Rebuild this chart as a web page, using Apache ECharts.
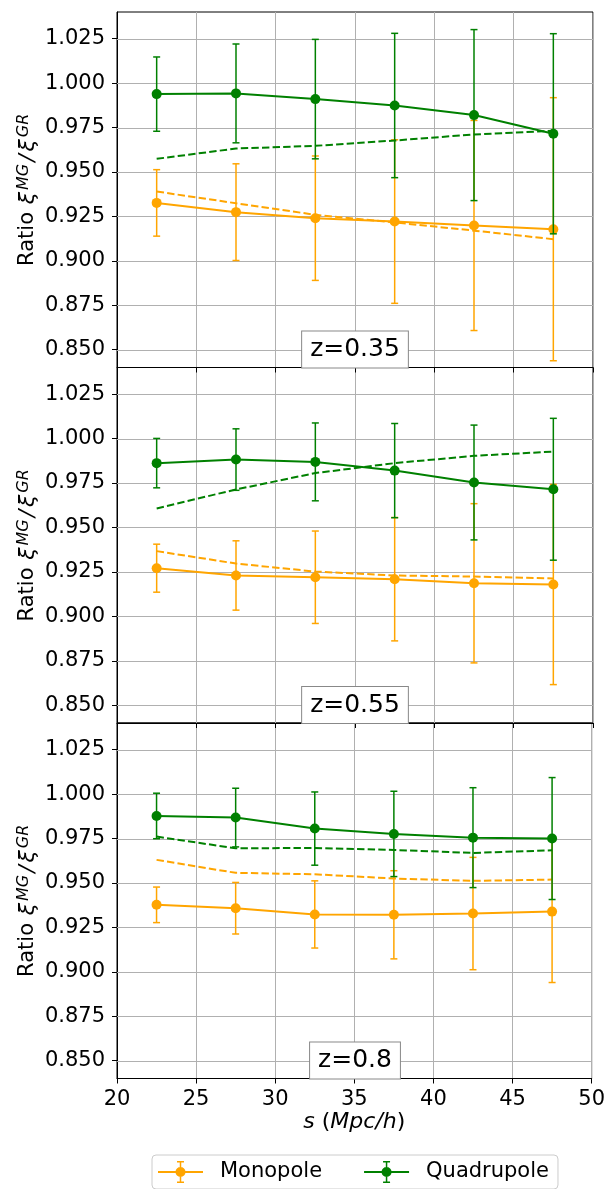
<!DOCTYPE html>
<html>
<head>
<meta charset="utf-8">
<script src="https://cdn.jsdelivr.net/npm/echarts@6/dist/echarts.min.js"></script>
<style>
html,body{margin:0;padding:0;background:#fff;}
#chart{width:608px;height:1189px;}
</style>
</head>
<body>
<div id="chart"></div>
<script>
// ---------------- data ----------------
const sValues = [22.5, 27.5, 32.5, 37.5, 42.5, 47.5];
const panelLabels = ['z=0.35', 'z=0.55', 'z=0.8'];
const yTicks = [0.850, 0.875, 0.900, 0.925, 0.950, 0.975, 1.000, 1.025];
const xTicks = [20, 25, 30, 35, 40, 45, 50];

// Monopole ratio (solid, with error bars), one row per panel
const monoRatio = [
  [0.9326, 0.9274, 0.9240, 0.9221, 0.9199, 0.9178],
  [0.9271, 0.9230, 0.9220, 0.9209, 0.9186, 0.9179],
  [0.9377, 0.9358, 0.9323, 0.9321, 0.9328, 0.9339]
];
const monoErr = [
  [0.0187, 0.0272, 0.0350, 0.0460, 0.0591, 0.0740],
  [0.0135, 0.0195, 0.0260, 0.0347, 0.0448, 0.0563],
  [0.0100, 0.0145, 0.0189, 0.0248, 0.0316, 0.0399]
];
// Monopole dashed curve
const monoDash = [
  [0.9390, 0.9324, 0.9259, 0.9216, 0.9170, 0.9122],
  [0.9367, 0.9297, 0.9252, 0.9230, 0.9224, 0.9213],
  [0.9630, 0.9557, 0.9549, 0.9525, 0.9512, 0.9519]
];
// Quadrupole ratio (solid, with error bars)
const quadRatio = [
  [0.9938, 0.9942, 0.9910, 0.9874, 0.9820, 0.9715],
  [0.9862, 0.9882, 0.9869, 0.9820, 0.9753, 0.9715],
  [0.9877, 0.9868, 0.9806, 0.9776, 0.9755, 0.9750]
];
const quadErr = [
  [0.0209, 0.0278, 0.0336, 0.0406, 0.0481, 0.0563],
  [0.0139, 0.0173, 0.0219, 0.0265, 0.0323, 0.0399],
  [0.0128, 0.0165, 0.0206, 0.0240, 0.0281, 0.0343]
];
// Quadrupole dashed curve
const quadDash = [
  [0.9574, 0.9632, 0.9647, 0.9677, 0.9711, 0.9732],
  [0.9607, 0.9714, 0.9806, 0.9862, 0.9903, 0.9927],
  [0.9761, 0.9695, 0.9697, 0.9686, 0.9669, 0.9684]
];

// ---------------- style / layout ----------------
const FONT = 'DejaVu Sans';
const ORANGE = '#FFA500';
const GREEN = '#008000';
const GRIDC = '#b0b0b0';
const PLOT_LEFT = 117, PLOT_W = 476, PLOT_H = 355.5;
const PANEL_TOPS = [12, 367.5, 723];
const YTITLE_X = 28;

const chart = echarts.init(document.getElementById('chart'), null, {renderer: 'canvas'});

function errRenderer(color) {
  return function (params, api) {
    const x = api.value(0), lo = api.value(1), hi = api.value(2);
    const pLo = api.coord([x, lo]), pHi = api.coord([x, hi]);
    const cap = 3.5;
    const style = {stroke: color, lineWidth: 1.5};
    return {
      type: 'group',
      children: [
        {type: 'line', shape: {x1: pLo[0], y1: pLo[1], x2: pHi[0], y2: pHi[1]}, style: style},
        {type: 'line', shape: {x1: pLo[0] - cap, y1: pLo[1], x2: pLo[0] + cap, y2: pLo[1]}, style: style},
        {type: 'line', shape: {x1: pHi[0] - cap, y1: pHi[1], x2: pHi[0] + cap, y2: pHi[1]}, style: style}
      ]
    };
  };
}

// horizontal grid line at a y tick value, spanning the x-axis range
function hGridRenderer(params, api) {
  const v = api.value(0);
  const a = api.coord([xTicks[0], v]);
  const b = api.coord([xTicks[xTicks.length - 1], v]);
  const y = Math.round(a[1]) + 0.5;
  return {type: 'line', shape: {x1: a[0], y1: y, x2: b[0], y2: y},
    style: {stroke: GRIDC, lineWidth: 1}};
}

const pairs = (ys) => sValues.map((x, i) => [x, ys[i]]);
const errData = (ys, es) => sValues.map((x, i) => [x, ys[i] - es[i], ys[i] + es[i]]);

const grids = [], xAxes = [], yAxes = [], series = [], graphics = [];
const yName = '{a|Ratio }{b|ξ}{c|MG}{d|/}{b|ξ}{c|GR}';
const yNameRich = {
  a: {fontFamily: FONT, fontSize: 21, fill: '#000', lineHeight: 26},
  b: {fontFamily: FONT, fontSize: 22, fontStyle: 'italic', fill: '#000', lineHeight: 26, padding: [0, 1, 0, 1]},
  c: {fontFamily: FONT, fontSize: 16, fontStyle: 'italic', fill: '#000', lineHeight: 17, padding: [0, 0, 9, 1]},
  d: {fontFamily: FONT, fontSize: 22, fontStyle: 'italic', fill: '#000', lineHeight: 26, padding: [0, 2, 0, 2]}
};

PANEL_TOPS.forEach((top, p) => {
  const isLast = p === PANEL_TOPS.length - 1;
  grids.push({
    left: PLOT_LEFT, top: top, width: PLOT_W, height: PLOT_H,
    show: true, borderColor: '#000', borderWidth: 1, backgroundColor: 'transparent'
  });
  xAxes.push({
    type: 'value', gridIndex: p, min: xTicks[0], max: xTicks[xTicks.length - 1], interval: 5,
    axisLine: {show: true, onZero: false, lineStyle: {color: '#000', width: 1}},
    axisTick: {show: true, length: 5, lineStyle: {color: '#000', width: 1}},
    axisLabel: {show: isLast, fontFamily: FONT, fontSize: 21, color: '#000', margin: 11},
    splitLine: {show: true, lineStyle: {color: GRIDC, width: 1}},
    name: isLast ? '{i|s} ({i|Mpc/h})' : '',
    nameLocation: 'middle', nameGap: 33,
    nameTextStyle: {fontFamily: FONT, fontSize: 22, color: '#000',
      rich: {i: {fontFamily: FONT, fontSize: 22, fontStyle: 'italic', color: '#000'}}}
  });
  yAxes.push({
    type: 'value', gridIndex: p, min: 0.84, max: 1.04,
    axisLine: {show: true, lineStyle: {color: '#000', width: 1}},
    axisTick: {show: true, length: 5, customValues: yTicks, lineStyle: {color: '#000', width: 1}},
    axisLabel: {show: true, customValues: yTicks, fontFamily: FONT, fontSize: 21, color: '#000', margin: 12,
      formatter: v => v.toFixed(3)},
    splitLine: {show: false}
  });
  // y-axis title (rotated), centred on the panel
  graphics.push({
    type: 'text', x: YTITLE_X, y: top + PLOT_H / 2, rotation: Math.PI / 2, z: 100,
    style: {
      text: yName, rich: yNameRich, fontFamily: FONT, fontSize: 21, fill: '#000',
      align: 'center', verticalAlign: 'middle'
    }
  });
  // horizontal grid lines at y ticks
  series.push({
    type: 'custom', name: 'ygrid' + p, xAxisIndex: p, yAxisIndex: p, z: 1, silent: true,
    renderItem: hGridRenderer, encode: {y: 0},
    data: yTicks.map(v => [v])
  });
  // Monopole
  series.push({
    type: 'custom', name: 'Monopole err ' + p, xAxisIndex: p, yAxisIndex: p, z: 2,
    renderItem: errRenderer(ORANGE), encode: {x: 0, y: [1, 2]},
    data: errData(monoRatio[p], monoErr[p]), silent: true
  });
  series.push({
    type: 'line', name: 'Monopole', xAxisIndex: p, yAxisIndex: p, z: 3,
    data: pairs(monoRatio[p]), symbol: 'circle', symbolSize: 10, showSymbol: true,
    lineStyle: {color: ORANGE, width: 2}, itemStyle: {color: ORANGE, borderWidth: 0}, silent: true
  });
  series.push({
    type: 'line', name: 'Monopole model ' + p, xAxisIndex: p, yAxisIndex: p, z: 3,
    data: pairs(monoDash[p]), symbol: 'none', showSymbol: false,
    lineStyle: {color: ORANGE, width: 2, type: [7.4, 3.2]}, itemStyle: {color: ORANGE}, silent: true
  });
  // Quadrupole
  series.push({
    type: 'custom', name: 'Quadrupole err ' + p, xAxisIndex: p, yAxisIndex: p, z: 4,
    renderItem: errRenderer(GREEN), encode: {x: 0, y: [1, 2]},
    data: errData(quadRatio[p], quadErr[p]), silent: true
  });
  series.push({
    type: 'line', name: 'Quadrupole', xAxisIndex: p, yAxisIndex: p, z: 5,
    data: pairs(quadRatio[p]), symbol: 'circle', symbolSize: 10, showSymbol: true,
    lineStyle: {color: GREEN, width: 2}, itemStyle: {color: GREEN, borderWidth: 0}, silent: true
  });
  series.push({
    type: 'line', name: 'Quadrupole model ' + p, xAxisIndex: p, yAxisIndex: p, z: 5,
    data: pairs(quadDash[p]), symbol: 'none', showSymbol: false,
    lineStyle: {color: GREEN, width: 2, type: [7.4, 3.2]}, itemStyle: {color: GREEN}, silent: true
  });
  // redshift label box
  graphics.push({
    type: 'text', x: PLOT_LEFT + PLOT_W / 2, y: top + PLOT_H, z: 100,
    style: {
      text: panelLabels[p], font: '25px "' + FONT + '"', fill: '#000',
      align: 'center', verticalAlign: 'bottom',
      backgroundColor: '#fff', borderColor: '#888', borderWidth: 1,
      padding: [4, 8, 4, 8], lineHeight: 28
    }
  });
});

const legendIcon = 'path://M0,10 L45,10 L45,12 L0,12 Z M21.75,0 L23.25,0 L23.25,22 L21.75,22 Z M19,0 L26,0 L26,1.5 L19,1.5 Z M19,20.5 L26,20.5 L26,22 L19,22 Z M17.5,11 A5,5 0 1,1 27.5,11 A5,5 0 1,1 17.5,11 Z';

chart.setOption({
  animation: false,
  backgroundColor: '#fff',
  textStyle: {fontFamily: FONT},
  grid: grids,
  xAxis: xAxes,
  yAxis: yAxes,
  series: series,
  graphic: graphics,
  legend: {
    left: 152, top: 1155,
    data: [{name: 'Monopole', icon: legendIcon}, {name: 'Quadrupole', icon: legendIcon}],
    itemWidth: 45, itemHeight: 22, itemGap: 42,
    padding: [6, 9, 6, 6],
    borderColor: '#cccccc', borderWidth: 1, borderRadius: 4,
    itemStyle: {borderWidth: 0},
    formatter: name => '{n|' + name + '}',
    textStyle: {fontFamily: FONT, fontSize: 21, color: '#000',
      rich: {n: {fontFamily: FONT, fontSize: 21, color: '#000', padding: [0, 0, 0, 12]}}}
  }
});
</script>
</body>
</html>
